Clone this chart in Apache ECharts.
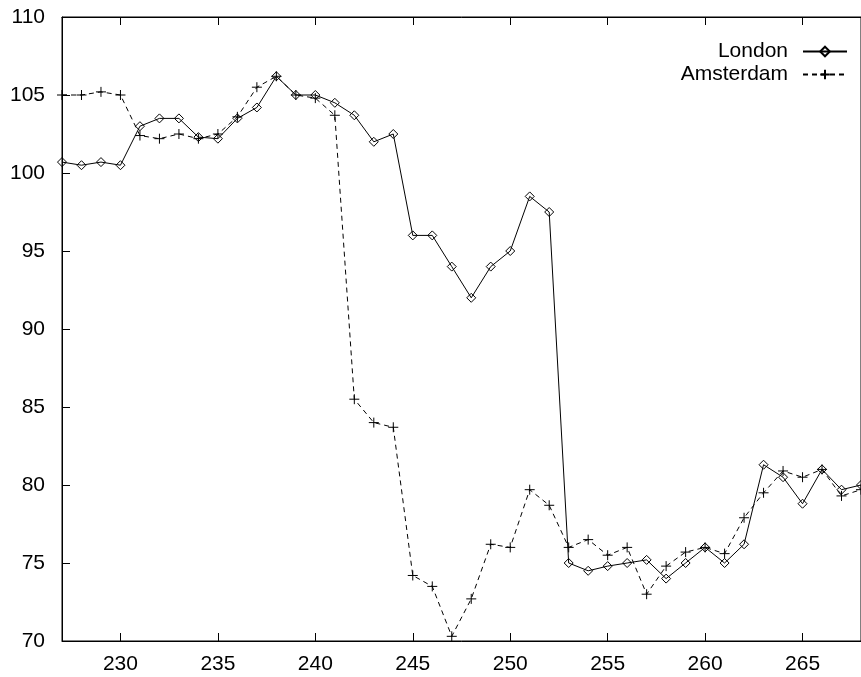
<!DOCTYPE html>
<html>
<head>
<meta charset="utf-8">
<script src="https://cdn.jsdelivr.net/npm/echarts@6/dist/echarts.min.js"></script>
<style>
html,body{margin:0;padding:0;background:#fff;}
#chart{width:861px;height:677px;}
</style>
</head>
<body>
<div id="chart"></div>
<script>
const xValues = [227,228,229,230,231,232,233,234,235,236,237,238,239,240,241,242,243,244,245,246,247,248,249,250,251,252,253,254,255,256,257,258,259,260,261,262,263,264,265,266,267,268];
const london = [100.7,100.5,100.7,100.5,103.0,103.5,103.5,102.3,102.2,103.5,104.2,106.2,105.0,105.0,104.5,103.7,102.0,102.5,96.0,96.0,94.0,92.0,94.0,95.0,98.5,97.5,75.0,74.5,74.8,75.0,75.2,74.0,75.0,76.0,75.0,76.2,81.3,80.5,78.8,81.0,79.7,80.0];
const amsterdam = [105.0,105.0,105.2,105.0,102.4,102.2,102.5,102.2,102.5,103.6,105.5,106.2,105.0,104.8,103.7,85.5,84.0,83.7,74.2,73.5,70.3,72.7,76.2,76.0,79.7,78.7,76.0,76.5,75.5,76.0,73.0,74.8,75.7,76.0,75.6,77.9,79.5,80.9,80.5,81.0,79.3,79.7];
const xTicks = [230,235,240,245,250,255,260,265];
const seriesNames = ['London','Amsterdam'];

const FONT = "'Liberation Sans', Arial, Helvetica, sans-serif";
const chart = echarts.init(document.getElementById('chart'), null, {renderer:'canvas'});
const pairs = vals => xValues.map((x,i)=>[x, vals[i]]);
const plusPath = 'path://M0,5L10,5M5,0L5,10';

const option = {
  animation:false,
  backgroundColor:'#fff',
  grid:{left:62, top:17, right:-10, bottom:36, show:true, borderColor:'#000', borderWidth:1, backgroundColor:'transparent'},
  legend:{
    orient:'vertical', right:8, top:36, align:'right',
    itemWidth:44, itemHeight:12, itemGap:2,
    data:seriesNames,
    textStyle:{fontFamily:FONT, fontSize:21, color:'#000', padding:[0,10,0,0]},
  },
  xAxis:[{
    type:'value', min:227, max:268,
    axisLine:{show:true, lineStyle:{color:'#000', width:1}},
    axisTick:{show:true, inside:true, length:8, customValues:xTicks, lineStyle:{color:'#000'}},
    axisLabel:{customValues:xTicks, fontFamily:FONT, fontSize:21, color:'#000', margin:13},
    splitLine:{show:false}
  },{
    type:'value', min:227, max:268, position:'top',
    axisLine:{show:true, lineStyle:{color:'#000', width:1}},
    axisTick:{show:true, inside:true, length:8, customValues:xTicks, lineStyle:{color:'#000'}},
    axisLabel:{show:false},
    splitLine:{show:false}
  }],
  yAxis:{
    type:'value', min:70, max:110, interval:5,
    axisLine:{show:true, lineStyle:{color:'#000', width:1}},
    axisTick:{show:true, inside:true, length:8, lineStyle:{color:'#000'}},
    axisLabel:{fontFamily:FONT, fontSize:21, color:'#000', margin:17},
    splitLine:{show:false}
  },
  series:[{
    name:seriesNames[0], type:'line', data:pairs(london), clip:false,
    symbol:'diamond', symbolSize:[9,9], showAllSymbol:true,
    itemStyle:{color:'rgba(0,0,0,0)', borderColor:'#000', borderWidth:1},
    lineStyle:{color:'#000', width:1, type:'solid'},
    emphasis:{disabled:true}
  },{
    name:seriesNames[1], type:'line', data:pairs(amsterdam), clip:false,
    symbol:plusPath, symbolSize:[10,10], showAllSymbol:true,
    itemStyle:{color:'rgba(0,0,0,0)', borderColor:'#000', borderWidth:1},
    lineStyle:{color:'#000', width:1, type:[5,4]},
    emphasis:{disabled:true}
  }]
};
chart.setOption(option);
</script>
</body>
</html>
